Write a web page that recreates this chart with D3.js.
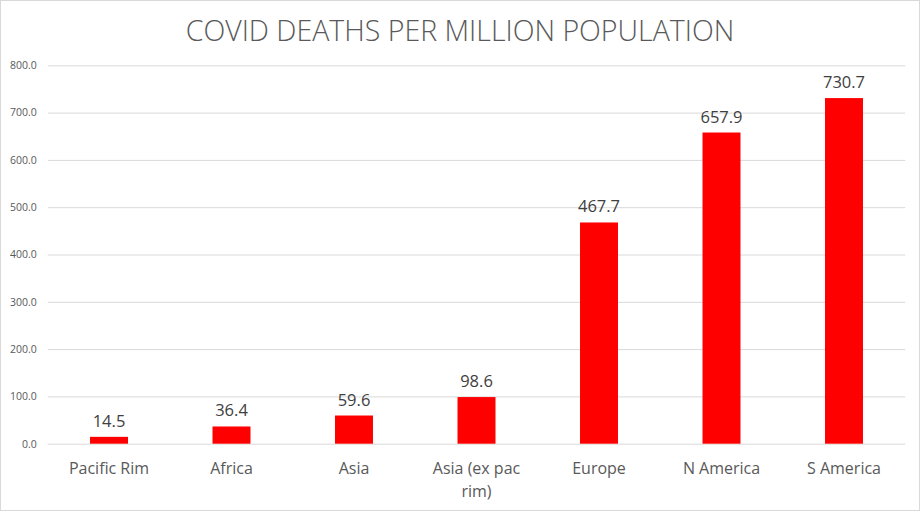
<!DOCTYPE html>
<html><head><meta charset="utf-8">
<script src="https://cdn.jsdelivr.net/npm/d3@7"></script>
<style>body{margin:0;background:#fff}svg{display:block}text{font-family:"Open Sans",sans-serif}</style>
</head><body>
<svg id="c" width="920" height="511"></svg>
<script>
const categories = ["Pacific Rim","Africa","Asia","Asia (ex pac rim)","Europe","N America","S America"];
const categoryLines = [["Pacific Rim"],["Africa"],["Asia"],["Asia (ex pac","rim)"],["Europe"],["N America"],["S America"]];
const values = [14.5,36.4,59.6,98.6,467.7,657.9,730.7];
const yTicks = [0,100,200,300,400,500,600,700,800];
const title = "COVID DEATHS PER MILLION POPULATION";

const svg = d3.select("#c");
svg.append("rect").attr("x",0.5).attr("y",0.5).attr("width",919).attr("height",510)
  .attr("fill","#fff").attr("stroke","#d9d9d9");

const x = d3.scaleBand().domain(categories).range([47.75,905.25]).paddingInner(0.69).paddingOuter(0.345);
const y = d3.scaleLinear().domain([0,800]).range([443.7,65.3]);

svg.append("text").attr("x",460).attr("y",41).attr("text-anchor","middle")
  .attr("fill","#595959").attr("font-size",28.5).attr("font-weight",300).text(title);

const yAxis = d3.axisLeft(y).tickValues(yTicks).tickFormat(d3.format(".1f")).tickSize(-(905.25-47.75)).tickPadding(11);
const gy = svg.append("g").attr("transform","translate(47.75,0)").call(yAxis);
gy.select(".domain").remove();
gy.selectAll(".tick line").attr("stroke","#d9d9d9").attr("stroke-width",1);
gy.selectAll(".tick text").attr("fill","#595959").attr("font-size",10.5).attr("font-family","'Open Sans',sans-serif");

svg.append("g").selectAll("rect").data(values).join("rect")
  .attr("x",(d,i)=>x(categories[i])).attr("width",x.bandwidth())
  .attr("y",d=>y(d)).attr("height",d=>y(0)-y(d)).attr("fill","#ff0000");

svg.append("g").selectAll("text").data(values).join("text")
  .attr("x",(d,i)=>x(categories[i])+x.bandwidth()/2).attr("y",d=>y(d)-10)
  .attr("text-anchor","middle").attr("fill","#404040").attr("font-size",16.5)
  .text(d=>d3.format(".1f")(d));

const xl = svg.append("g");
categories.forEach((c,i)=>{
  const t = xl.append("text").attr("x",x(c)+x.bandwidth()/2).attr("y",473.5)
    .attr("text-anchor","middle").attr("fill","#595959").attr("font-size",16);
  categoryLines[i].forEach((ln,j)=>t.append("tspan").attr("x",x(c)+x.bandwidth()/2).attr("dy",j?23:0).text(ln));
});
</script>
</body></html>
